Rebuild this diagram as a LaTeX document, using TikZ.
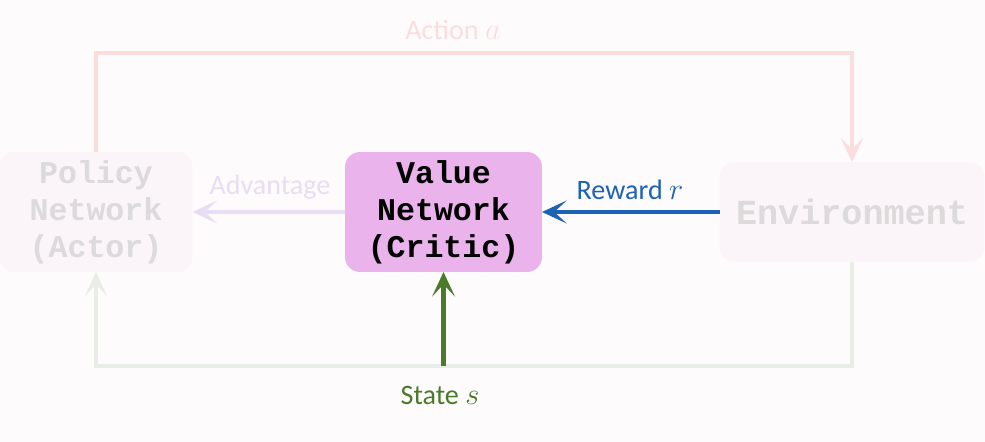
\documentclass[tikz,border=0pt]{standalone}
\usepackage{fontspec}
\setmainfont{Carlito}
\setmonofont{Liberation Mono}
\usetikzlibrary{arrows.meta}

\begin{document}
\begin{tikzpicture}[
  x=0.02cm, y=-0.02cm,
  font=\fontsize{16}{19}\selectfont,
  every node/.style={inner sep=0pt, outer sep=0pt},
  netbox/.style={rounded corners=0.3cm, align=center, font=\fontsize{18}{21}\selectfont\ttfamily\bfseries},
  flow/.style={line width=2.3pt, -{Stealth[length=14pt, width=13pt, inset=7pt]}},
  loopline/.style={line width=2.3pt},
]

% ── colors ──
\definecolor{PageBg}{HTML}{FEFBFD}
\definecolor{FadeBox}{HTML}{FBF4F8}
\definecolor{FadeText}{HTML}{DCDADB}
\definecolor{CriticFill}{HTML}{EBB3EB}
\definecolor{ActionCol}{HTML}{FBDDDE}
\definecolor{AdvCol}{HTML}{E7DEF3}
\definecolor{RewardCol}{HTML}{1E62B4}
\definecolor{StateCol}{HTML}{4B7A2B}
\definecolor{LoopCol}{HTML}{E8EDE6}

% ── page ──
\fill[PageBg] (0,0) rectangle (985,442);
\useasboundingbox (0,0) rectangle (985,442);

% ── boxes ──
\node[netbox, fill=FadeBox, text=FadeText, minimum width=3.86cm, minimum height=2.4cm] (policy) at (96,212) {Policy\\Network\\(Actor)};
\node[netbox, fill=CriticFill, text=black, minimum width=3.94cm, minimum height=2.4cm] (value) at (443.5,212) {Value\\Network\\(Critic)};
\node[netbox, fill=FadeBox, text=FadeText, minimum width=5.3cm, minimum height=2.0cm, font=\fontsize{20}{24}\selectfont\ttfamily\bfseries] (env) at (852,212) {Environment};

% ── action loop ──
\coordinate (atop) at (475,53);
\draw[flow, ActionCol] (policy.north) |- (atop) -| (env.north);
\node[text=ActionCol] (actlbl) at (453,30) {Action $a$};

% ── state loop ──
\coordinate (sbot) at (475,366);
\draw[flow, LoopCol] (env.south) |- (sbot) -| (policy.south);
\coordinate (sstart) at (value.south |- sbot);
\draw[flow, StateCol] (sstart) -- (value.south);
\node[text=StateCol] (statelbl) at (440,395) {State $s$};

% ── advantage / reward ──
\draw[flow, AdvCol] (value.west) -- (policy.east);
\node[text=AdvCol] (advlbl) at (270,187) {Advantage};
\draw[flow, RewardCol] (env.west) -- (value.east);
\node[text=RewardCol] (rewlbl) at (630,190) {Reward $r$};

\end{tikzpicture}
\end{document}
